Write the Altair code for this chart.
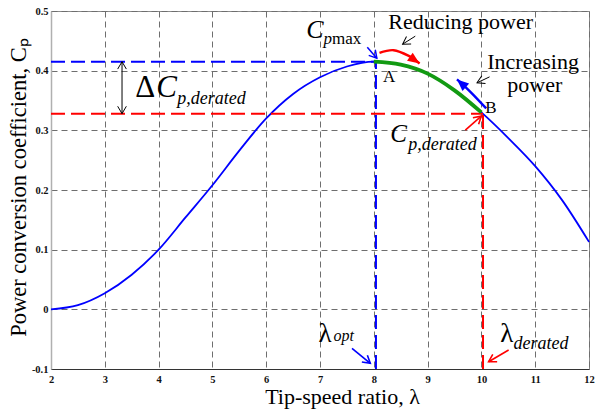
import math
import altair as alt
import pandas as pd

# ---------------- data ----------------
lam = [2.0, 2.5, 3.0, 3.5, 4.0, 4.5, 5.0, 5.5, 6.0, 6.5, 7.0,
       7.5, 8.0, 8.5, 9.0, 9.5, 10.0, 10.5, 11.0, 11.5, 12.0]
cp = [0.000, 0.007, 0.027, 0.058, 0.100, 0.154, 0.208, 0.266, 0.320, 0.361, 0.389,
      0.407, 0.415, 0.410, 0.395, 0.367, 0.330, 0.287, 0.240, 0.183, 0.113]
x_ticks = [2, 3, 4, 5, 6, 7, 8, 9, 10, 11, 12]
y_ticks = [-0.1, 0.0, 0.1, 0.2, 0.3, 0.4, 0.5]

lam_opt, cp_max = 8.04, 0.415
lam_der, cp_der = 10.03, 0.328
green_from, green_to = 8.0, 10.0

W, H = 538, 358
X_DOM, Y_DOM = [2, 12], [-0.1, 0.5]
KX = W / (X_DOM[1] - X_DOM[0])
KY = H / (Y_DOM[1] - Y_DOM[0])

BLUE, RED, GREEN, BLACK = "#0000ff", "#ff0000", "#129a12", "#000000"
SERIF = "Liberation Serif"

xs = alt.Scale(domain=X_DOM, nice=False, zero=False)
ys = alt.Scale(domain=Y_DOM, nice=False, zero=False)

x_axis = alt.Axis(values=x_ticks, grid=True, gridDash=[6, 4], gridColor="#6e6e6e",
                  gridWidth=1, ticks=False, domainColor="#333333", domainWidth=1.2,
                  labelFont="Liberation Sans Narrow", labelFontWeight="bold",
                  labelFontSize=10.5, labelColor="#111", labelPadding=5,
                  labelBaseline="top", labelFlush=False,
                  titleFont=SERIF, titleFontSize=22, titleFontWeight="normal",
                  titleColor="#000", titleX=291, titleY=34, titleAlign="center",
                  titleBaseline="alphabetic")
y_axis = alt.Axis(values=y_ticks, grid=True, gridDash=[6, 4], gridColor="#6e6e6e",
                  gridWidth=1, ticks=False, domainColor="#b0b0b0", domainWidth=1.5,
                  labelFont="Liberation Sans Narrow", labelFontWeight="bold",
                  labelFontSize=10.5, labelColor="#111", labelPadding=3,
                  labelFlush=False,
                  labelExpr="datum.value < -0.001 ? '-' + format(-datum.value, '.1f') : "
                            "(abs(datum.value) < 0.001 ? '0' : format(datum.value, '.1f'))",
                  titleFont=SERIF, titleFontSize=22.5, titleFontWeight="normal",
                  titleColor="#000", titleAngle=270, titleX=-26, titleY=176,
                  titleAlign="center", titleBaseline="alphabetic")


def X():
    return alt.X("x:Q", scale=xs, axis=x_axis, title="Tip-speed ratio, λ")


def Y():
    return alt.Y("y:Q", scale=ys, axis=y_axis, title="Power conversion coefficient, Cₚ")


def angle_of(x0, y0, x1, y1):
    dx = (x1 - x0) * KX
    dy = -(y1 - y0) * KY
    return math.degrees(math.atan2(dx, -dy)) % 360


curve = pd.DataFrame({"x": lam, "y": cp})
green = curve[(curve.x >= green_from) & (curve.x <= green_to)]

base_line = alt.Chart(curve).mark_line(color=BLUE, strokeWidth=1.8,
                                       interpolate="monotone").encode(x=X(), y=Y())

green_line = alt.Chart(green).mark_line(color=GREEN, strokeWidth=3.8,
                                        interpolate="monotone").encode(x=X(), y=Y())

# dashed guide lines
guides = pd.DataFrame({
    "x": [2, lam_opt, 2, lam_der],
    "x2": [lam_opt, lam_opt, lam_der, lam_der],
    "y": [cp_max, -0.1, cp_der, -0.1],
    "y2": [cp_max, cp_max, cp_der, cp_der],
    "c": [BLUE, BLUE, RED, RED],
})
guide_layer = alt.Chart(guides).mark_rule(strokeDash=[14, 6], strokeWidth=2).encode(
    x=X(), x2="x2:Q", y=Y(), y2="y2:Q", color=alt.Color("c:N", scale=None))

# straight arrow shafts (tail -> tip)
shafts = pd.DataFrame([
    dict(x=7.879, y=0.4394, x2=8.056, y2=0.421, c=BLUE, w=1.5),
    dict(x=8.771, y=0.4578, x2=8.535, y2=0.4444, c=BLACK, w=1.0),
    dict(x=10.152, y=0.3896, x2=9.918, y2=0.3796, c=BLACK, w=1.0),
    dict(x=9.701, y=0.3003, x2=9.998, y2=0.3238, c=RED, w=1.6),
    dict(x=7.595, y=-0.0653, x2=7.935, y2=-0.0905, c=BLUE, w=1.6),
    dict(x=10.506, y=-0.0682, x2=10.134, y2=-0.0878, c=RED, w=1.6),
    dict(x=3.32, y=cp_max, x2=3.32, y2=cp_der, c=BLACK, w=1.0),
])
shaft_layer = alt.Chart(shafts).mark_rule().encode(
    x=X(), x2="x2:Q", y=Y(), y2="y2:Q",
    color=alt.Color("c:N", scale=None),
    strokeWidth=alt.StrokeWidth("w:Q", scale=None))

# open V heads at the tips
heads = pd.DataFrame({
    "x": list(shafts["x2"]) + [3.32],
    "y": list(shafts["y2"]) + [cp_max],
    "a": [angle_of(r.x, r.y, r.x2, r.y2) for r in shafts.itertuples()] + [0.0],
    "c": list(shafts["c"]) + [BLACK],
    "w": list(shafts["w"]) + [1.0],
})
vhead_layer = alt.Chart(heads).mark_point(
    shape="M-0.5,0.85 L0,0 L0.5,0.85", filled=False, opacity=1, size=300).encode(
    x=X(), y=Y(), angle=alt.Angle("a:Q", scale=None),
    color=alt.Color("c:N", scale=None),
    strokeWidth=alt.StrokeWidth("w:Q", scale=None))

# curved arrows
arcs = pd.DataFrame({
    "x": [8.106, 8.368, 8.641, 8.851, 10.089, 9.855, 9.700, 9.546],
    "y": [0.4299, 0.4343, 0.4251, 0.4120, 0.3367, 0.3590, 0.3729, 0.3853],
    "i": [0, 1, 2, 3, 0, 1, 2, 3],
    "g": ["r", "r", "r", "r", "b", "b", "b", "b"],
    "c": [RED] * 4 + [BLUE] * 4,
})
arc_layer = alt.Chart(arcs).mark_line(strokeWidth=2.4, interpolate="cardinal").encode(
    x=X(), y=Y(), order="i:Q", detail="g:N", color=alt.Color("c:N", scale=None))

tips = pd.DataFrame({
    "x": [8.851, 9.546],
    "y": [0.4120, 0.3853],
    "a": [angle_of(8.641, 0.4251, 8.851, 0.4120), angle_of(9.700, 0.3729, 9.546, 0.3853)],
    "c": [RED, BLUE],
})
tip_layer = alt.Chart(tips).mark_point(
    shape="M0,0 L-0.42,1 L0.42,1 Z", filled=True, opacity=1, size=560).encode(
    x=X(), y=Y(), angle=alt.Angle("a:Q", scale=None), color=alt.Color("c:N", scale=None))

# texts
roman = pd.DataFrame([
    dict(x=8.269, y=0.4695, t="Reducing power", s=22),
    dict(x=10.109, y=0.4034, t="Increasing", s=22),
    dict(x=10.481, y=0.3640, t="power", s=22),
    dict(x=8.171, y=0.3810, t="A", s=17),
    dict(x=10.072, y=0.3288, t="B", s=17),
    dict(x=7.223, y=0.4452, t="max", s=17),
    dict(x=3.567, y=0.3565, t="Δ", s=31),
    dict(x=6.974, y=-0.0543, t="λ", s=27),
    dict(x=10.351, y=-0.0543, t="λ", s=27),
])
italic = pd.DataFrame([
    dict(x=6.745, y=0.4553, t="C", s=26),
    dict(x=7.067, y=0.4452, t="p", s=17),
    dict(x=3.957, y=0.3565, t="C", s=31),
    dict(x=4.348, y=0.3447, t="p,derated", s=18),
    dict(x=8.307, y=0.2807, t="C", s=25),
    dict(x=8.641, y=0.2668, t="p,derated", s=18),
    dict(x=7.253, y=-0.0530, t="opt", s=16),
    dict(x=10.598, y=-0.0673, t="derated", s=18),
])
roman_layer = alt.Chart(roman).mark_text(font=SERIF, align="left", baseline="alphabetic",
                                         color="#000").encode(
    x=X(), y=Y(), text="t:N", size=alt.Size("s:Q", scale=None))
italic_layer = alt.Chart(italic).mark_text(font=SERIF, fontStyle="italic", align="left",
                                           baseline="alphabetic", color="#000").encode(
    x=X(), y=Y(), text="t:N", size=alt.Size("s:Q", scale=None))

chart = alt.layer(
    base_line, guide_layer, green_line, shaft_layer, vhead_layer,
    arc_layer, tip_layer, roman_layer, italic_layer,
).properties(
    width=W, height=H,
    autosize=alt.AutoSizeParams(type="none"),
    padding={"left": 51, "top": 11, "right": 6, "bottom": 45},
    background="white",
).configure_view(stroke="#8a8a8a", strokeWidth=1)

chart.save("out.html", embed_options={"renderer": "svg", "actions": False})
